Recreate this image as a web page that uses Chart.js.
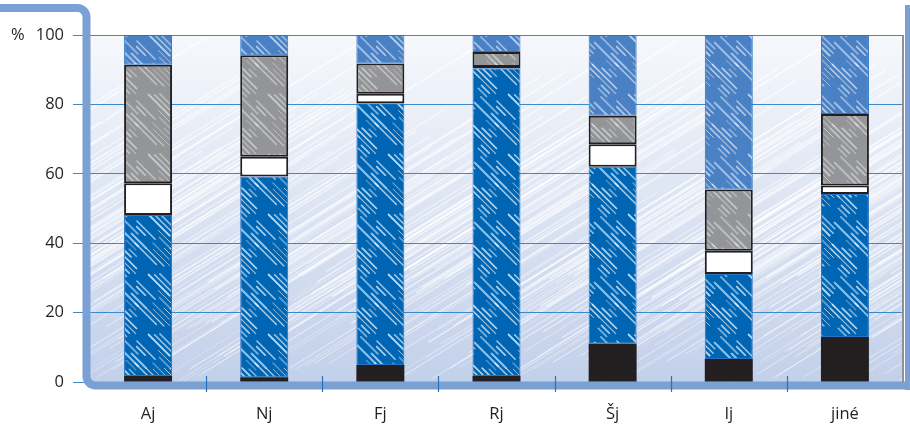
<!DOCTYPE html>
<html>
<head>
<meta charset="utf-8">
<script src="https://cdn.jsdelivr.net/npm/chart.js@4"></script>
<style>
  body { margin: 0; background: #fff; }
  #wrap { width: 910px; height: 426px; }
</style>
</head>
<body>
<div id="wrap"><canvas id="chart" width="910" height="426"></canvas></div>
<script>
// kategorie a podíly (%) jednotlivých částí sloupce, odspodu nahoru
const categories = ["Aj", "Nj", "Fj", "Rj", "Šj", "Ij", "jiné"];
const blackPart = [1.7, 1.4, 4.9, 1.7, 11.0, 6.6, 13.0];
const darkBluePart = [46.4, 57.8, 75.4, 88.7, 51.0, 24.5, 41.2];
const whitePart = [9.2, 5.7, 2.8, 0.4, 6.5, 6.7, 2.4];
const grayPart = [34.1, 29.3, 8.7, 4.3, 8.2, 17.7, 20.6];
const lightBluePart = [8.6, 5.8, 8.2, 4.9, 23.3, 44.5, 22.8];
const yTicks = [0, 20, 40, 60, 80, 100];

const FONT = "'Open Sans', 'Noto Sans', sans-serif";
const TEXT = "#231f20";
const FRAME = "#7ba0d4";

// pseudo-náhodný hash jen pro texturu šrafování
function h(n) { return Math.abs(Math.sin(n * 12.9898) * 43758.5453) % 1; }

// šrafovaná výplň sloupců (přerušované bílé tahy)
function hatch(base, alphaScale) {
  const s = 60;
  const c = document.createElement("canvas");
  c.width = s; c.height = s;
  const g = c.getContext("2d");
  g.fillStyle = base;
  g.fillRect(0, 0, s, s);
  g.strokeStyle = "#ffffff";
  g.lineCap = "round";
  let n = 1;
  for (let k = 0; k < s; k += 6) {
    let t = h(n++) * 10;
    while (t < s) {
      const len = 6 + h(n++) * 20;
      const gap = 6 + h(n++) * 22;
      g.globalAlpha = (0.4 + 0.5 * h(n++)) * alphaScale;
      g.lineWidth = 0.9 + h(n++) * 1.1;
      // kopie do okolních dlaždic, aby vzor navazoval
      for (let dx = -s; dx <= s; dx += s) {
        for (let dy = -s; dy <= s; dy += s) {
          g.beginPath();
          g.moveTo(k + t + dx, t + dy);
          g.lineTo(k + t + len + dx, t + len + dy);
          g.stroke();
        }
      }
      t += len + gap;
    }
  }
  return g.createPattern(c, "repeat");
}

const ctx = document.getElementById("chart").getContext("2d");

const backgroundPlugin = {
  id: "bg",
  beforeDraw(chart) {
    const { ctx, chartArea: a } = chart;
    ctx.save();
    const grd = ctx.createLinearGradient(0, a.top, 0, a.bottom);
    grd.addColorStop(0, "#f6f8fc");
    grd.addColorStop(1, "#c2d0ea");
    ctx.fillStyle = grd;
    ctx.fillRect(a.left, a.top, a.right - a.left, a.bottom - a.top);
    // bílé tahy na pozadí
    ctx.beginPath();
    ctx.rect(a.left, a.top, a.right - a.left, a.bottom - a.top);
    ctx.clip();
    ctx.strokeStyle = "#ffffff";
    for (let i = 0; i < 420; i++) {
      const x0 = a.left - 300 + i * 3.1;
      const h1 = h(i + 0.5);
      const h2 = h(i * 3.7 + 1.3);
      const y0 = a.bottom - h1 * 120;
      const len = 140 + h2 * 260;
      ctx.globalAlpha = 0.25 + 0.45 * h2;
      ctx.lineWidth = 0.8 + h1;
      ctx.beginPath();
      ctx.moveTo(x0, y0);
      ctx.lineTo(x0 + len, y0 - len * 0.62);
      ctx.stroke();
    }
    ctx.restore();
  },
  beforeDatasetsDraw(chart) {
    const { ctx, chartArea: a, scales } = chart;
    ctx.save();
    // rámeček
    ctx.strokeStyle = FRAME;
    ctx.lineWidth = 8;
    ctx.lineJoin = "round";
    ctx.beginPath();
    ctx.moveTo(0, 8);
    ctx.arcTo(86.5, 8, 86.5, 20, 9);
    ctx.arcTo(86.5, 385.5, 100, 385.5, 9);
    ctx.lineTo(906, 385.5);
    ctx.stroke();
    ctx.fillStyle = FRAME;
    ctx.fillRect(905, 5, 5, 385);
    ctx.fillStyle = "#8c919a";
    ctx.fillRect(a.right - 1, a.top, 2, a.bottom - a.top);
    // značky mezi kategoriemi
    const x = scales.x;
    ctx.strokeStyle = "#2a72c0";
    ctx.lineWidth = 1.2;
    for (let i = 0; i < categories.length - 1; i++) {
      const px = Math.round((x.getPixelForValue(i) + x.getPixelForValue(i + 1)) / 2) + 0.5;
      ctx.beginPath();
      ctx.moveTo(px, a.bottom - 6);
      ctx.lineTo(px, a.bottom + 10);
      ctx.stroke();
    }
    // znak %
    ctx.fillStyle = TEXT;
    ctx.font = "16.5px " + FONT;
    ctx.textAlign = "left";
    ctx.textBaseline = "middle";
    ctx.fillText("%", 11, scales.y.getPixelForValue(100));
    ctx.restore();
  }
};

const blueBorder = "#2a74c4";
const darkBorder = "#231f20";

new Chart(ctx, {
  type: "bar",
  data: {
    labels: categories,
    datasets: [
      { data: blackPart, backgroundColor: "#231f20", borderWidth: 0 },
      { data: darkBluePart, backgroundColor: hatch("#0066b3", 0.9), borderColor: blueBorder, borderWidth: 1 },
      { data: whitePart, backgroundColor: "#ffffff", borderColor: darkBorder, borderWidth: 2 },
      { data: grayPart, backgroundColor: hatch("#939598", 0.6), borderColor: darkBorder, borderWidth: 2 },
      { data: lightBluePart, backgroundColor: hatch("#4a80c4", 0.75), borderColor: blueBorder, borderWidth: 1 }
    ]
  },
  options: {
    responsive: false,
    animation: false,
    events: [],
    layout: { padding: { top: 35, right: 7, left: 0, bottom: 0 } },
    datasets: { bar: { categoryPercentage: 1, barPercentage: 0.413, borderSkipped: false } },
    plugins: { legend: { display: false }, tooltip: { enabled: false } },
    scales: {
      x: {
        stacked: true,
        grid: { display: false },
        border: { display: false },
        ticks: { color: TEXT, font: { family: FONT, size: 16.5 }, padding: 14 },
        afterFit(scale) { scale.height = 44; }
      },
      y: {
        stacked: true,
        min: 0,
        max: 100,
        afterBuildTicks(scale) { scale.ticks = yTicks.map(v => ({ value: v })); },
        grid: { color: "#3d88c9", lineWidth: 1, tickLength: 17 },
        border: { display: false },
        ticks: { color: TEXT, font: { family: FONT, size: 16.5 }, padding: 9 },
        afterFit(scale) { scale.width = 90; }
      }
    }
  },
  plugins: [backgroundPlugin]
});
</script>
</body>
</html>
